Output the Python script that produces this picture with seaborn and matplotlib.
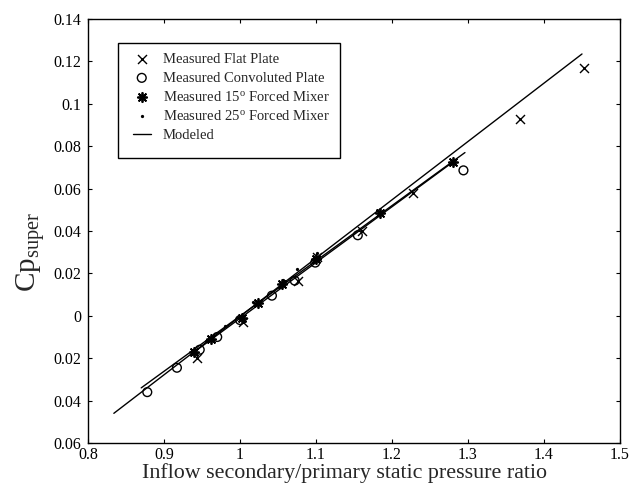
import matplotlib
matplotlib.use("Agg")
import matplotlib.pyplot as plt
from matplotlib.patches import Rectangle
import seaborn as sns

# Measured pressure-recovery data for each mixer geometry
flat_x = [0.943, 1.004, 1.076, 1.101, 1.160, 1.228, 1.368, 1.453]
flat_y = [-0.020, -0.003, 0.0166, 0.0275, 0.040, 0.0577, 0.093, 0.117]
conv_x = [0.878, 0.917, 0.947, 0.970, 1.000, 1.042, 1.072, 1.099, 1.155, 1.294]
conv_y = [-0.036, -0.0245, -0.016, -0.010, -0.002, 0.0095, 0.0166, 0.0251, 0.038, 0.0686]
mix15_x = [0.940, 0.962, 1.003, 1.024, 1.055, 1.100, 1.184, 1.280]
mix15_y = [-0.017, -0.011, -0.001, 0.006, 0.015, 0.027, 0.0487, 0.0724]
mix25_x = [0.955, 0.980, 1.017, 1.057, 1.075, 1.101]
mix25_y = [-0.012, -0.005, 0.0065, 0.017, 0.0223, 0.0294]

# Modeled curves
model_a_x = [0.834, 1.450]
model_a_y = [-0.046, 0.1235]
model_b_x = [0.870, 1.296]
model_b_y = [-0.034, 0.077]
model_c_x = [0.940, 1.280]
model_c_y = [-0.017, 0.0725]

legend_labels = ["Measured Flat Plate", "Measured Convoluted Plate",
                 "Measured 15$^{\\mathrm{o}}$ Forced Mixer",
                 "Measured 25$^{\\mathrm{o}}$ Forced Mixer", "Modeled"]

x_ticks = [0.8, 0.9, 1.0, 1.1, 1.2, 1.3, 1.4, 1.5]
x_tick_labels = ["0.8", "0.9", "1", "1.1", "1.2", "1.3", "1.4", "1.5"]
y_ticks = [-0.06, -0.04, -0.02, 0.0, 0.02, 0.04, 0.06, 0.08, 0.10, 0.12, 0.14]
y_tick_labels = ["0.06", "0.04", "0.02", "0", "0.02", "0.04", "0.06",
                 "0.08", "0.1", "0.12", "0.14"]

sns.set_style("ticks")
plt.rcParams["font.family"] = ["Liberation Serif", "DejaVu Serif"]
plt.rcParams["mathtext.fontset"] = "custom"
plt.rcParams["mathtext.rm"] = "Liberation Serif"
plt.rcParams["mathtext.it"] = "Liberation Serif:italic"

W, H = 637, 486
L, R, T, B = 88, 620, 19, 443
fig = plt.figure(figsize=(W / 100, H / 100), dpi=100)
ax = fig.add_axes([L / W, 1 - B / H, (R - L) / W, (B - T) / H])


def ax_frac(px, py):
    """Pixel position in the figure -> axes fraction."""
    return (px - L) / (R - L), (B - py) / (B - T)


for mx, my, lab in [(model_a_x, model_a_y, legend_labels[4]),
                    (model_b_x, model_b_y, None),
                    (model_c_x, model_c_y, None)]:
    sns.lineplot(x=mx, y=my, ax=ax, color="black", lw=1.0, label=lab,
                 estimator=None, sort=False, legend=False)

sns.scatterplot(x=flat_x, y=flat_y, ax=ax, marker="x", s=42, color="black",
                linewidth=1.0, label=legend_labels[0], legend=False, zorder=3)
sns.scatterplot(x=conv_x, y=conv_y, ax=ax, marker="o", s=40, facecolor="none",
                edgecolor="black", linewidth=1.0, label=legend_labels[1],
                legend=False, zorder=3)
sns.scatterplot(x=mix15_x, y=mix15_y, ax=ax, marker=(8, 2, 0), s=45,
                color="black", linewidth=1.3, label=legend_labels[2],
                legend=False, zorder=3)
sns.scatterplot(x=mix25_x, y=mix25_y, ax=ax, marker=".", s=22, color="black",
                linewidth=0, label=legend_labels[3], legend=False, zorder=3)

ax.set_xlim(0.8, 1.5)
ax.set_ylim(-0.06, 0.14)
ax.set_xticks(x_ticks)
ax.set_xticklabels(x_tick_labels)
ax.set_yticks(y_ticks)
ax.set_yticklabels(y_tick_labels)
ax.tick_params(direction="in", length=3, width=0.8, top=True, right=True,
               labelsize=11.5, colors="black")
ax.tick_params(axis="x", pad=3)
ax.tick_params(axis="y", pad=5)
for sp in ax.spines.values():
    sp.set_visible(True)
    sp.set_color("black")
    sp.set_linewidth(1.0)

ax.set_xlabel("Inflow secondary/primary static pressure ratio", fontsize=15.8)
ax.xaxis.label.set_verticalalignment("baseline")
ax.xaxis.set_label_coords(0.483, -(478 - B) / (B - T))
ax.set_ylabel("Cp$_{\\mathrm{super}}$", fontsize=21)
ax.yaxis.set_label_coords(-0.078, 0.45)

# legend: square black frame with entries placed inside it
fx0, fy0 = ax_frac(118, 158)
fx1, fy1 = ax_frac(340, 43)
ax.add_patch(Rectangle((fx0, fy0), fx1 - fx0, fy1 - fy0, transform=ax.transAxes,
                       facecolor="white", edgecolor="black", lw=1.0, zorder=4))

handles, labels = ax.get_legend_handles_labels()
order = [legend_labels.index(l) for l in labels]
pairs = sorted(zip(order, handles, labels))
leg = ax.legend([p[1] for p in pairs], [p[2] for p in pairs],
                loc="upper left", bbox_to_anchor=ax_frac(133, 53),
                borderaxespad=0, borderpad=0, frameon=False,
                fontsize=10.5, handlelength=1.2, labelspacing=0.36,
                handletextpad=0.85)
leg.set_zorder(5)

fig.savefig("out.png", dpi=100, facecolor="white")
